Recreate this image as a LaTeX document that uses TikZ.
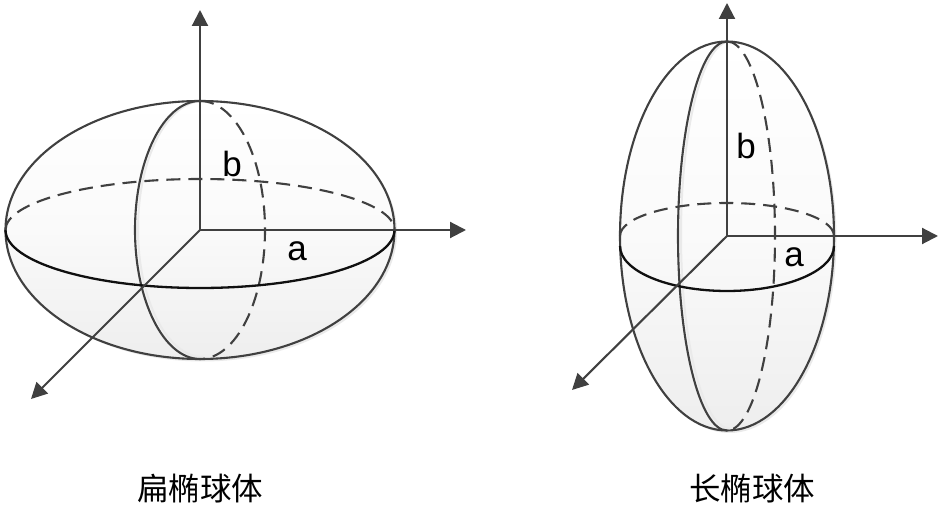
\documentclass[tikz,border=0pt]{standalone}
\usepackage{fontspec}
\setmainfont{Liberation Sans}
\newfontfamily\cjk{Noto Sans CJK SC}
\usetikzlibrary{arrows.meta,positioning,calc}
\definecolor{ellink}{HTML}{404040}
\definecolor{ellblack}{HTML}{101010}
\definecolor{ellshade}{HTML}{EEEEEE}
\definecolor{ellhalo}{HTML}{EAEAEA}
\tikzset{
  body/.style={top color=white, bottom color=ellshade, middle color=ellshade!30},
  halo/.style={draw=ellhalo, line width=2pt},
  outl/.style={draw=ellink, line width=2.1pt},
  hidden/.style={outl, dash pattern=on 14pt off 8pt},
  front/.style={draw=ellblack, line width=2.3pt},
  axis/.style={-{Triangle[length=16pt,width=16pt]}, draw=ellink, line width=2.1pt},
  lbl/.style={font=\fontsize{35}{38}\selectfont, text=black, inner sep=0pt},
  captxt/.style={font=\fontsize{31.5}{36}\cjk, text=black, inner sep=0pt},
}
\begin{document}
\begin{tikzpicture}[x=1pt,y=1pt]
  \useasboundingbox (0,0) rectangle (945,511);
  \coordinate (o1) at (200,281);
  \coordinate (x1) at (466,281);
  \coordinate (y1) at (200,501);
  \coordinate (z1) at (31,112);
  \coordinate (o2) at (727,275);
  \coordinate (x2) at (938,275);
  \coordinate (y2) at (727,508);
  \coordinate (z2) at (572,121);
  % oblate
  \fill[ellhalo] ($(o1)+(2.5,-2.5)$) ellipse [x radius=194.5, y radius=129];
  \shade[body] (o1) ellipse [x radius=194.5, y radius=129];
  \draw[outl] (o1) ellipse [x radius=194.5, y radius=129];
  \draw[halo] ($(o1)+(3,129)$) arc [start angle=90, end angle=270, x radius=65, y radius=128];
  \draw[outl] ($(o1)+(0,129)$) arc [start angle=90, end angle=270, x radius=65, y radius=129];
  \draw[hidden] ($(o1)+(0,129)$) arc [start angle=90, end angle=-90, x radius=65, y radius=129];
  \draw[hidden] ($(o1)+(-194.5,0)$) arc [start angle=180, end angle=0, x radius=194.5, y radius=51];
  \draw[front] ($(o1)+(-194.5,0)$) arc [start angle=180, end angle=360, x radius=194.5, y radius=58];
  \draw[axis] (o1) -- (x1);
  \draw[axis] (o1) -- (y1);
  \draw[axis] (o1) -- (z1);
  \node[lbl] (b1) at (232,347) {b};
  \node[lbl] (a1) at (297,260) {a};
  \node[captxt] (c1) at (200,22) {扁椭球体};
  % prolate
  \fill[ellhalo] ($(o2)+(2.5,-2.5)$) ellipse [x radius=107, y radius=194.5];
  \shade[body] (o2) ellipse [x radius=107, y radius=194.5];
  \draw[outl] (o2) ellipse [x radius=107, y radius=194.5];
  \draw[halo] ($(o2)+(3,194.5)$) arc [start angle=90, end angle=270, x radius=49, y radius=193.5];
  \draw[outl] ($(o2)+(0,194.5)$) arc [start angle=90, end angle=270, x radius=49, y radius=194.5];
  \draw[hidden] ($(o2)+(0,194.5)$) arc [start angle=90, end angle=-90, x radius=48, y radius=194.5];
  \draw[hidden] ($(o2)+(-107,0)$) arc [start angle=180, end angle=0, x radius=107, y radius=33];
  \draw[front] ($(o2)+(-107,-10)$) arc [start angle=180, end angle=360, x radius=107, y radius=45];
  \draw[axis] (o2) -- (x2);
  \draw[axis] (o2) -- (y2);
  \draw[axis] (o2) -- (z2);
  \node[lbl] (b2) at (746,365) {b};
  \node[lbl] (a2) at (794,254) {a};
  \node[captxt] (c2) at (752,22) {长椭球体};
\end{tikzpicture}
\end{document}
